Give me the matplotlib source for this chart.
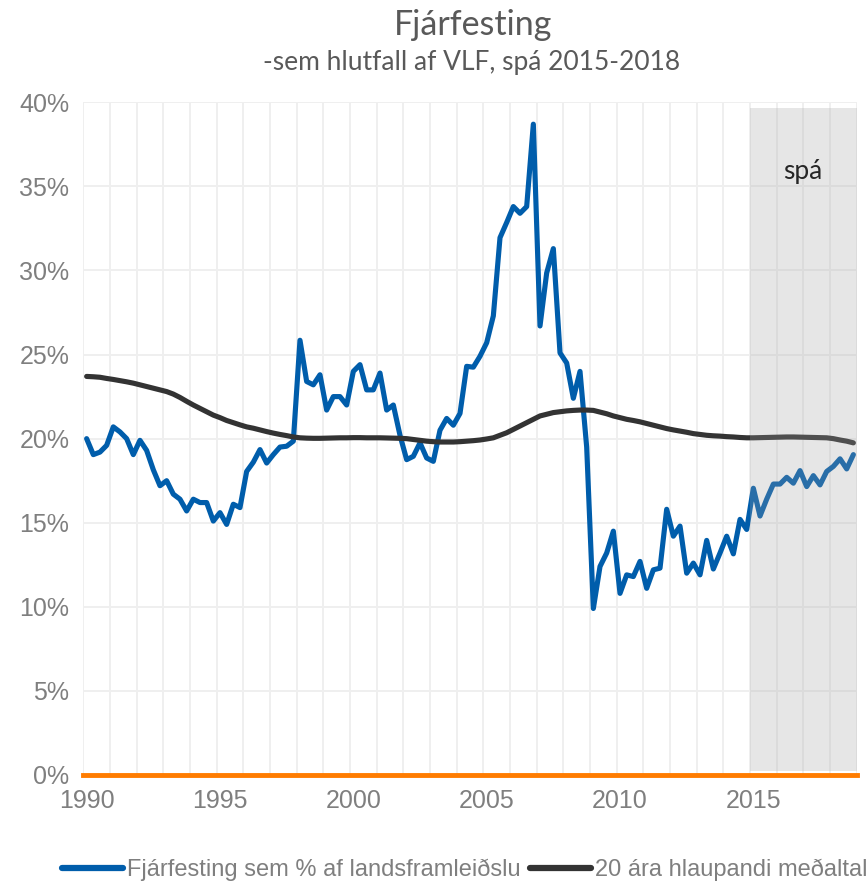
import numpy as np
import matplotlib
matplotlib.use("Agg")
import matplotlib.pyplot as plt
from matplotlib.ticker import FixedLocator, FuncFormatter

# quarterly data 1990Q1 - 2018Q4, % of GDP
fjarfesting = [
    20.0, 19.05, 19.2, 19.6,      # 1990
    20.7, 20.4, 20.0, 19.05,      # 1991
    19.9, 19.3, 18.15, 17.2,      # 1992
    17.5, 16.7, 16.4, 15.7,       # 1993
    16.4, 16.2, 16.2, 15.1,       # 1994
    15.6, 14.9, 16.1, 15.9,       # 1995
    18.05, 18.6, 19.35, 18.55,    # 1996
    19.05, 19.5, 19.55, 19.85,    # 1997
    25.85, 23.4, 23.2, 23.8,      # 1998
    21.7, 22.5, 22.5, 22.0,       # 1999
    24.0, 24.4, 22.9, 22.9,       # 2000
    23.9, 21.7, 22.0, 20.2,       # 2001
    18.75, 18.95, 19.75, 18.85,   # 2002
    18.65, 20.5, 21.2, 20.8,      # 2003
    21.5, 24.3, 24.25, 24.9,      # 2004
    25.7, 27.3, 31.95, 32.85,     # 2005
    33.8, 33.4, 33.8, 38.7,       # 2006
    26.7, 29.85, 31.3, 25.1,      # 2007
    24.5, 22.4, 24.0, 19.5,       # 2008
    9.9, 12.4, 13.2, 14.5,        # 2009
    10.8, 11.9, 11.8, 12.7,       # 2010
    11.1, 12.2, 12.3, 15.8,       # 2011
    14.2, 14.8, 12.0, 12.6,       # 2012
    11.9, 13.95, 12.25, 13.2,     # 2013
    14.2, 13.15, 15.2, 14.6,      # 2014
    17.05, 15.4, 16.4, 17.3,      # 2015
    17.3, 17.7, 17.35, 18.1,      # 2016
    17.15, 17.8, 17.25, 18.05,    # 2017
    18.35, 18.8, 18.2, 19.05,     # 2018
]

medaltal_20ar = [
    23.70, 23.68, 23.65, 23.58,   # 1990
    23.52, 23.45, 23.38, 23.30,   # 1991
    23.20, 23.10, 23.00, 22.90,   # 1992
    22.80, 22.65, 22.45, 22.22,   # 1993
    22.00, 21.80, 21.60, 21.40,   # 1994
    21.25, 21.08, 20.95, 20.82,   # 1995
    20.70, 20.62, 20.52, 20.42,   # 1996
    20.33, 20.25, 20.18, 20.10,   # 1997
    20.05, 20.03, 20.02, 20.02,   # 1998
    20.03, 20.04, 20.05, 20.05,   # 1999
    20.06, 20.06, 20.05, 20.05,   # 2000
    20.05, 20.04, 20.03, 20.02,   # 2001
    20.00, 19.95, 19.90, 19.85,   # 2002
    19.82, 19.80, 19.80, 19.80,   # 2003
    19.82, 19.85, 19.88, 19.92,   # 2004
    19.98, 20.05, 20.20, 20.35,   # 2005
    20.55, 20.75, 20.95, 21.15,   # 2006
    21.35, 21.45, 21.55, 21.60,   # 2007
    21.65, 21.68, 21.70, 21.70,   # 2008
    21.68, 21.58, 21.48, 21.35,   # 2009
    21.25, 21.15, 21.08, 21.00,   # 2010
    20.90, 20.80, 20.70, 20.60,   # 2011
    20.52, 20.45, 20.38, 20.30,   # 2012
    20.25, 20.20, 20.17, 20.15,   # 2013
    20.12, 20.10, 20.07, 20.05,   # 2014
    20.05, 20.06, 20.07, 20.08,   # 2015
    20.09, 20.10, 20.10, 20.09,   # 2016
    20.08, 20.07, 20.06, 20.05,   # 2017
    20.00, 19.92, 19.85, 19.75,   # 2018
]

start_year = 1990
spa_start, spa_end = 2015, 2018
year_labels = [1990, 1995, 2000, 2005, 2010, 2015]
y_ticks = [0, 5, 10, 15, 20, 25, 30, 35, 40]

quarters = start_year + np.arange(len(fjarfesting)) / 4

fig = plt.figure(figsize=(8.68, 8.86), dpi=100)
ax = fig.add_axes([83.3 / 868, 1 - 775 / 886, (856.7 - 83.3) / 868, (775 - 102.3) / 886])

tick_font = ["Liberation Sans Narrow", "Liberation Sans", "DejaVu Sans"]
title_font = ["Lato", "DejaVu Sans"]

ax.plot(quarters, fjarfesting, color="#005dab", lw=3.7, solid_joinstyle="round",
        solid_capstyle="round", label="Fjárfesting sem % af landsframleiðslu", zorder=3)
ax.plot(quarters, medaltal_20ar, color="#333333", lw=3.7, solid_capstyle="round",
        label="20 ára hlaupandi meðaltal", zorder=3)
ax.axhline(0, color="#ff7c00", lw=3.5, zorder=4, clip_on=False)

# forecast shading
ax.axvspan(spa_start - 0.125, spa_end + 0.875, ymin=0.006, ymax=0.992,
           color=(162 / 255,) * 3, alpha=0.26, lw=0, zorder=5)
ax.text(2016.87, 35.9, "spá", family=title_font, fontsize=19, color="#262626",
        ha="center", va="center", zorder=6)

ax.set_xlim(start_year - 0.125, spa_end + 0.875)
ax.set_ylim(0, 40)

# grid lines sit between year labels (year boundaries)
ax.xaxis.set_minor_locator(FixedLocator(np.arange(start_year, spa_end + 2) - 0.125))
ax.set_xticks(year_labels)
ax.set_yticks(y_ticks)
ax.yaxis.set_major_formatter(FuncFormatter(lambda v, p: f"{v:.0f}%"))
ax.grid(which="minor", axis="x", color="#efefef", lw=1.4, zorder=0)
ax.grid(which="major", axis="y", color="#efefef", lw=1.4, zorder=0)
ax.set_axisbelow(True)
ax.tick_params(which="both", length=0)
ax.tick_params(axis="x", pad=10)
ax.tick_params(axis="y", pad=10)
for lbl in ax.get_xticklabels() + ax.get_yticklabels():
    lbl.set_family(tick_font)
    lbl.set_fontsize(18)
    lbl.set_color("#7f7f7f")
for s in ax.spines.values():
    s.set_visible(False)

fig.text(0.545, 0.972, "Fjárfesting", family=title_font, fontsize=24.5,
         color="#595959", ha="center", va="center")
fig.text(0.543, 0.929, "-sem hlutfall af VLF, spá 2015-2018", family=title_font,
         fontsize=19, color="#595959", ha="center", va="center")

leg = fig.legend(loc="center", bbox_to_anchor=(0.535, 0.018), ncol=2, frameon=False,
                 handlelength=2.6, handletextpad=0.15, columnspacing=0.4,
                 prop={"family": tick_font, "size": 17})
for t in leg.get_texts():
    t.set_color("#7f7f7f")
for h in leg.get_lines():
    h.set_linewidth(4.5)

fig.savefig("out.png", dpi=100)
